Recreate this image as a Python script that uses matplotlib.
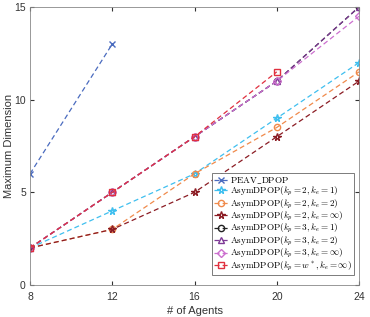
import matplotlib
matplotlib.use('Agg')
import matplotlib.pyplot as plt

plt.rcParams['mathtext.fontset'] = 'cm'
plt.rcParams['font.family'] = ['Liberation Sans', 'DejaVu Sans']

agents = [8, 12, 16, 20, 24]

peav = [6, 13]
asym_2_1 = [2, 4, 6, 9, 12]
asym_2_2 = [2, 3, 6, 8.5, 11.5]
asym_2_inf = [2, 3, 5, 8, 11]
asym_3_1 = [2, 5, 8, 11, 15]
asym_3_2 = [2, 5, 8, 11, 15]
asym_3_inf = [2, 5, 8, 11, 14.5]
asym_w_inf = [2, 5, 8, 11.5]

series = [
    (peav, r'$\mathrm{PEAV\_DPOP}$', '#4a6bbf', 'x'),
    (asym_2_1, r'$\mathrm{AsymDPOP}(k_p=2,k_e=1)$', '#3fbfef', '*'),
    (asym_2_2, r'$\mathrm{AsymDPOP}(k_p=2,k_e=2)$', '#f08a4b', 'o'),
    (asym_2_inf, r'$\mathrm{AsymDPOP}(k_p=2,k_e=\infty)$', '#8b1c24', '*'),
    (asym_3_1, r'$\mathrm{AsymDPOP}(k_p=3,k_e=1)$', '#222222', 'o'),
    (asym_3_2, r'$\mathrm{AsymDPOP}(k_p=3,k_e=2)$', '#7e3a96', '^'),
    (asym_3_inf, r'$\mathrm{AsymDPOP}(k_p=3,k_e=\infty)$', '#cc6fcf', 'D'),
    (asym_w_inf, r'$\mathrm{AsymDPOP}(k_p=w^*,k_e=\infty)$', '#e0303f', 's'),
]

fig = plt.figure(figsize=(3.7, 3.17), dpi=100, facecolor='white')
ax = fig.add_axes([30 / 370, 1 - 285 / 317, 329 / 370, 278 / 317])

for vals, label, color, marker in series:
    ms = 5.5 if marker == '*' else 4.5
    ax.plot(agents[:len(vals)], vals, linestyle='--', color=color, marker=marker,
            markersize=ms, markerfacecolor='none', markeredgewidth=1.0,
            linewidth=0.9, label=label, dashes=(4, 2.5))

ax.set_xlim(8, 24)
ax.set_ylim(0, 15)
ax.set_xticks(agents)
ax.set_yticks([0, 5, 10, 15])
ax.tick_params(direction='in', length=3, labelsize=7.5, colors='#333333',
               top=True, right=True)
ax.tick_params(axis='x', pad=5)
ax.tick_params(axis='y', pad=3)
for s in ax.spines.values():
    s.set_color('#888888')
    s.set_linewidth(0.6)
ax.set_xlabel('# of Agents', fontsize=8, color='#333333', labelpad=3)
ax.set_ylabel('Maximum Dimension', fontsize=8, color='#333333', labelpad=0)

leg = ax.legend(loc='lower right', fontsize=6.6, handlelength=1.5,
                handletextpad=0.25, labelspacing=-0.08, borderpad=0.25,
                borderaxespad=0, fancybox=False, framealpha=1,
                edgecolor='#666666', bbox_to_anchor=(324 / 329, 10 / 278))
leg.get_frame().set_linewidth(0.6)

fig.savefig('out.png', dpi=100)
